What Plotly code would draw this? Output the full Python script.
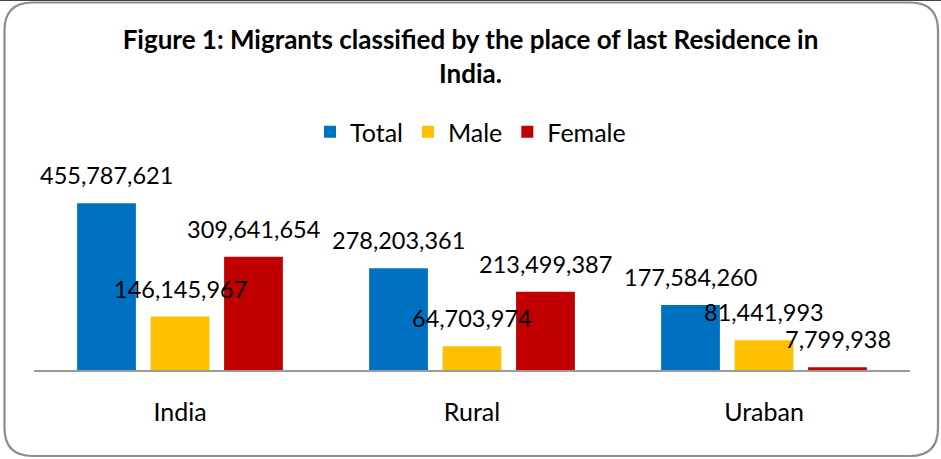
import plotly.graph_objects as go

categories = ["India", "Rural", "Uraban"]
series_names = ["Total", "Male", "Female"]
total_values = [455787621, 278203361, 177584260]
male_values = [146145967, 64703974, 81441993]
female_values = [309641654, 213499387, 7799938]
colors = ["#0070C0", "#FFC000", "#C00000"]

W, H = 941, 459
L, R, T, B = 34, 31, 187, 89
PW, PH = W - L - R, H - T - B

def px(X):
    return (X - L) / PW

def py(Y):
    return (H - B - Y) / PH

FONT = "Lato, Carlito, Calibri, sans-serif"

fig = go.Figure()
all_values = [total_values, male_values, female_values]
for name, vals, col in zip(series_names, all_values, colors):
    fig.add_trace(go.Bar(
        name=name, x=categories, y=vals,
        marker=dict(color=col, line=dict(width=0)),
    ))

annotations = []
slot = 73.5
for i, vals in enumerate(all_values):
    for c, v in zip(categories, vals):
        annotations.append(dict(
            x=c, y=v, xref="x", yref="y", text=f"{v:,}",
            showarrow=False, xshift=(i - 1) * slot, yshift=28,
            yanchor="middle", xanchor="center",
            font=dict(family=FONT, size=23.5, color="#000000"),
        ))

# rounded border
x0, x1, y0, y1, r = 4.5, 938, 2.5, 456, 28
path = (
    f"M {px(x0 + r)} {py(y0)} L {px(x1 - r)} {py(y0)} "
    f"Q {px(x1)} {py(y0)} {px(x1)} {py(y0 + r)} "
    f"L {px(x1)} {py(y1 - r)} Q {px(x1)} {py(y1)} {px(x1 - r)} {py(y1)} "
    f"L {px(x0 + r)} {py(y1)} Q {px(x0)} {py(y1)} {px(x0)} {py(y1 - r)} "
    f"L {px(x0)} {py(y0 + r)} Q {px(x0)} {py(y0)} {px(x0 + r)} {py(y0)} Z"
)
shapes = [
    dict(type="path", xref="paper", yref="paper", path=path,
         line=dict(color="#8C8C8C", width=2.2), layer="below"),
    dict(type="line", xref="paper", yref="paper", x0=px(0), x1=px(W),
         y0=py(0.5), y1=py(0.5), line=dict(color="#444444", width=1)),
]

fig.update_layout(
    width=W, height=H,
    margin=dict(l=L, r=R, t=T, b=B, pad=0),
    paper_bgcolor="white", plot_bgcolor="white",
    barmode="group", bargap=0.245, bargroupgap=0.2,
    title=dict(
        text="<b>Figure 1: Migrants classified by the place of last Residence in<br>India.</b>",
        x=0.5, xref="container", y=1 - 49 / H, yref="container", yanchor="top",
        xanchor="center",
        font=dict(family=FONT, size=26, color="#000000"),
    ),
    legend=dict(
        orientation="h", x=0.5, xref="container", xanchor="center",
        y=1 - 132 / H, yref="container", yanchor="middle",
        font=dict(family=FONT, size=25, color="#000000"),
        itemwidth=30, bgcolor="rgba(0,0,0,0)",
    ),
    xaxis=dict(
        showline=True, linecolor="#9A9A9A", linewidth=1.5,
        showgrid=False, ticks="", ticklabelstandoff=19,
        tickfont=dict(family=FONT, size=25, color="#000000"),
    ),
    yaxis=dict(range=[0, 500e6], visible=False, showgrid=False),
    annotations=annotations,
    shapes=shapes,
    showlegend=True,
)

fig.write_html(
    "out.html",
    config={"displayModeBar": False},
    post_script="document.body.style.margin='0';document.body.style.padding='0';",
)
